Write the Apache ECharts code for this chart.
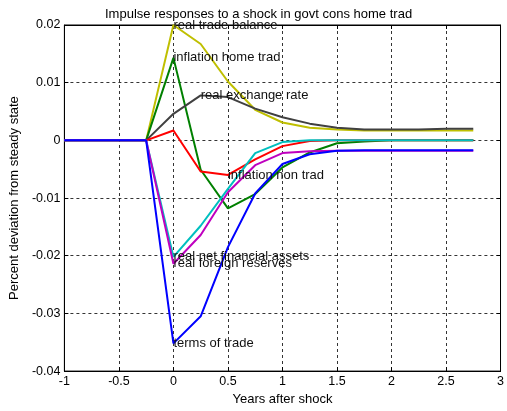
<!DOCTYPE html>
<html>
<head>
<meta charset="utf-8">
<script src="https://cdn.jsdelivr.net/npm/echarts@6/dist/echarts.min.js"></script>
<style>html,body{margin:0;padding:0;background:#fff;}#c{width:507px;height:411px;}</style>
</head>
<body>
<div id="c"></div>
<script>
const years = [-1,-0.75,-0.5,-0.25,0,0.25,0.5,0.75,1,1.25,1.5,1.75,2,2.25,2.5,2.75];
const tradeBalance = [0,0,0,0,0.0200,0.0167,0.0102,0.0053,0.0031,0.0022,0.0019,0.0017,0.0017,0.0017,0.0017,0.0017];
const inflationHome = [0,0,0,0,0.0143,-0.0051,-0.0118,-0.0093,-0.0047,-0.0021,-0.0005,-0.0002,0,0,0,0];
const exchangeRate = [0,0,0,0,0.0046,0.0078,0.0075,0.0055,0.0040,0.0029,0.0022,0.0019,0.0019,0.0019,0.0020,0.0020];
const inflationNon = [0,0,0,0,0.0017,-0.0054,-0.0060,-0.0033,-0.0010,-0.0001,0,0,0,0,0,0];
const netFinAssets = [0,0,0,0,-0.0202,-0.0148,-0.0084,-0.0022,-0.0003,0,0,0,0,0,0,0];
const foreignReserves = [0,0,0,0,-0.0214,-0.0164,-0.0090,-0.0043,-0.0022,-0.0019,-0.0018,-0.0018,-0.0018,-0.0018,-0.0018,-0.0018];
const termsOfTrade = [0,0,0,0,-0.0352,-0.0305,-0.0185,-0.0092,-0.0041,-0.0024,-0.0018,-0.0017,-0.0017,-0.0017,-0.0017,-0.0017];

const seriesDefs = [
  {name:'real trade balance', data:tradeBalance, color:'#bfbf00', labelIdx:4},
  {name:'inflation home trad', data:inflationHome, color:'#008000', labelIdx:4},
  {name:'real exchange rate', data:exchangeRate, color:'#404040', labelIdx:5},
  {name:'inflation non trad', data:inflationNon, color:'#ff0000', labelIdx:6},
  {name:'real net financial assets', data:netFinAssets, color:'#00bfbf', labelIdx:4},
  {name:'real foreign reserves', data:foreignReserves, color:'#bf00bf', labelIdx:4},
  {name:'terms of trade', data:termsOfTrade, color:'#0000ff', labelIdx:4}
];

const font = 'Liberation Sans, Arial, sans-serif';
const chart = echarts.init(document.getElementById('c'), null, {renderer:'canvas'});

const gridLine = {show:true, lineStyle:{color:'#000', type:[3,3], width:0.8}};
const fmtY = v => String(+v.toFixed(2));
const fmtX = v => String(+v.toFixed(1));

const series = seriesDefs.map(s => ({
  name: s.name,
  type: 'line',
  data: years.map((x,i) => [x, s.data[i]]),
  showSymbol: false,
  symbol: 'none',
  lineStyle: {color: s.color, width: 2},
  itemStyle: {color: s.color},
  animation: false,
  markPoint: {
    symbol: 'circle',
    symbolSize: 0,
    silent: true,
    animation: false,
    data: [{coord: [years[s.labelIdx], s.data[s.labelIdx]], value: s.name}],
    label: {
      show: true, position: 'right', distance: 0,
      formatter: s.name, color: '#111', fontSize: 13, fontFamily: font
    }
  }
}));

chart.setOption({
  animation: false,
  backgroundColor: '#fff',
  title: {
    text: 'Impulse responses to a shock in govt cons home trad',
    left: 100, top: 3,
    textStyle: {fontSize: 13, fontWeight: 'normal', color: '#000', fontFamily: font}
  },
  grid: {left: 62, right: 5, top: 25, bottom: 38, show: true, borderColor: '#000', borderWidth: 1},
  xAxis: [{
    type: 'value', min: -1, max: 3, interval: 0.5,
    name: 'Years after shock', nameLocation: 'middle', nameGap: 21,
    nameTextStyle: {fontSize: 13, color: '#000', fontFamily: font},
    axisLine: {show: true, onZero: false, lineStyle: {color: '#000', width: 1}},
    axisTick: {show: true, inside: true, length: 4, lineStyle: {color: '#000'}},
    axisLabel: {formatter: fmtX, fontSize: 12.5, color: '#000', fontFamily: font, margin: 4},
    splitLine: gridLine
  },{
    type: 'value', min: -1, max: 3, interval: 0.5, position: 'top',
    axisLine: {show: true, onZero: false, lineStyle: {color: '#000'}},
    axisTick: {show: true, inside: true, length: 4, lineStyle: {color: '#000'}},
    axisLabel: {show: false}, splitLine: {show: false}
  }],
  yAxis: [{
    type: 'value', min: -0.04, max: 0.02, interval: 0.01,
    name: 'Percent deviation from steady state', nameLocation: 'middle', nameGap: 42,
    nameTextStyle: {fontSize: 13, color: '#000', fontFamily: font},
    axisLine: {show: true, onZero: false, lineStyle: {color: '#000', width: 1}},
    axisTick: {show: true, inside: true, length: 4, lineStyle: {color: '#000'}},
    axisLabel: {formatter: fmtY, fontSize: 12.5, color: '#000', fontFamily: font, margin: 4},
    splitLine: gridLine
  },{
    type: 'value', min: -0.04, max: 0.02, interval: 0.01, position: 'right',
    axisLine: {show: true, onZero: false, lineStyle: {color: '#000'}},
    axisTick: {show: true, inside: true, length: 4, lineStyle: {color: '#000'}},
    axisLabel: {show: false}, splitLine: {show: false}
  }],
  series: series
});
</script>
</body>
</html>
